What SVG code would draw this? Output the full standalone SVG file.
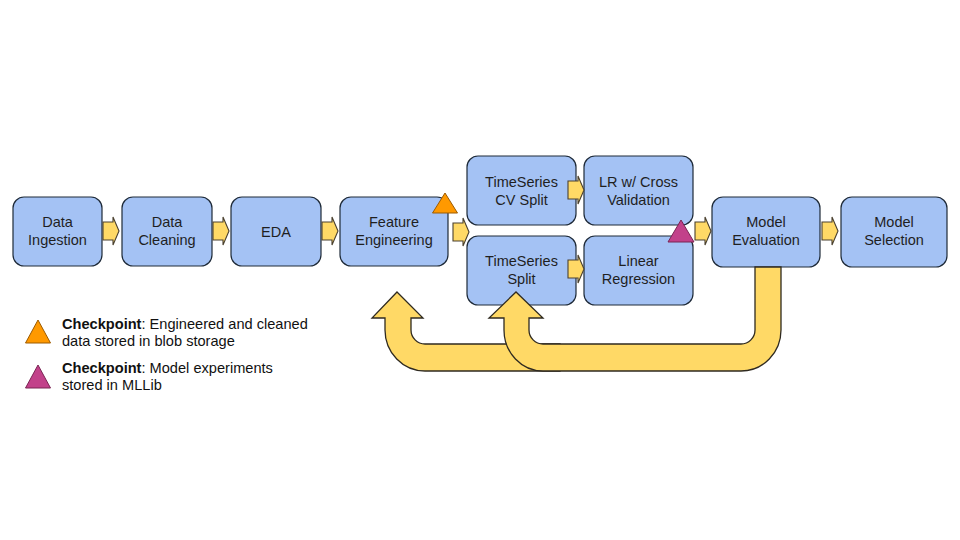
<svg xmlns="http://www.w3.org/2000/svg" xmlns:xlink="http://www.w3.org/1999/xlink" width="960" height="540" viewBox="0 0 960 540">
<style>
.box{fill:#a4c2f4;stroke:#1e2a38;stroke-width:1.2}
.t{font-family:"Liberation Sans",Arial,sans-serif;font-size:14.5px;fill:#1f1f1f;text-anchor:middle}
.arr{fill:#ffd966;stroke:#4a4030;stroke-width:1.1;stroke-linejoin:miter}
.big{fill:#ffd966;stroke:#2f2a20;stroke-width:1.3}
.lg{font-family:"Liberation Sans",Arial,sans-serif;font-size:14.6px;fill:#111}
.orange{fill:#ff9900;stroke:#9c5a00;stroke-width:1}
.mag{fill:#c2418a;stroke:#7a2453;stroke-width:1}
</style>
<defs>
<path id="sa" d="M0,-9 H10 V-14 L16,0 L10,14 V9 H0 Z"/>
</defs>
<rect width="960" height="540" fill="#ffffff"/>

<g id="n-ingestion"><rect class="box" x="13" y="197" width="89" height="69" rx="11"/><text class="t" x="57.5" y="226.5">Data</text><text class="t" x="57.5" y="244.5">Ingestion</text></g>
<g id="n-cleaning"><rect class="box" x="122" y="197" width="90" height="69" rx="11"/><text class="t" x="167" y="226.5">Data</text><text class="t" x="167" y="244.5">Cleaning</text></g>
<g id="n-eda"><rect class="box" x="231" y="197" width="90" height="69" rx="11"/><text class="t" x="276" y="236.5">EDA</text></g>
<g id="n-feature"><rect class="box" x="340" y="197" width="108" height="69" rx="11"/><text class="t" x="394" y="226.5">Feature</text><text class="t" x="394" y="244.5">Engineering</text></g>
<g id="n-tscv"><rect class="box" x="467" y="156" width="109" height="69" rx="11"/><text class="t" x="521.5" y="186.5">TimeSeries</text><text class="t" x="521.5" y="204.5">CV Split</text></g>
<g id="n-ts"><rect class="box" x="467" y="236" width="109" height="69" rx="11"/><text class="t" x="521.5" y="266">TimeSeries</text><text class="t" x="521.5" y="284">Split</text></g>
<g id="n-lrcv"><rect class="box" x="584" y="156" width="109" height="69" rx="11"/><text class="t" x="638.5" y="186.5">LR w/ Cross</text><text class="t" x="638.5" y="204.5">Validation</text></g>
<g id="n-lr"><rect class="box" x="584" y="236" width="109" height="69" rx="11"/><text class="t" x="638.5" y="266">Linear</text><text class="t" x="638.5" y="284">Regression</text></g>
<g id="n-eval"><rect class="box" x="712" y="197" width="108" height="70" rx="11"/><text class="t" x="766" y="227">Model</text><text class="t" x="766" y="245">Evaluation</text></g>
<g id="n-select"><rect class="box" x="841" y="197" width="106" height="70" rx="11"/><text class="t" x="894" y="227">Model</text><text class="t" x="894" y="245">Selection</text></g>

<g id="connectors">
<use xlink:href="#sa" class="arr" x="103" y="231"/>
<use xlink:href="#sa" class="arr" x="213" y="231"/>
<use xlink:href="#sa" class="arr" x="322" y="231"/>
<use xlink:href="#sa" class="arr" x="453" y="232"/>
<use xlink:href="#sa" class="arr" x="568" y="190"/>
<use xlink:href="#sa" class="arr" x="568" y="269"/>
<use xlink:href="#sa" class="arr" x="695" y="231"/>
<use xlink:href="#sa" class="arr" x="822" y="231"/>
<path id="uturn-feature" class="big" d="M397,292 L423,318 H411 V330 A14,14 0 0 0 425,344 H560 V371 H425 A40,41 0 0 1 385,330 V318 H372 Z"/>
<path id="uturn-split" class="big" d="M755,267 V330 A14,14 0 0 1 741,344 H543 A14,14 0 0 1 529,330 V318 H543 L516,292 L489,318 H504 V330 A39,41 0 0 0 543,371 H741 A40,41 0 0 0 781,330 V267 Z"/>
</g>

<g id="checkpoints">
<polygon class="orange" points="445,193 457.5,213 432.5,213"/>
<polygon class="mag" points="681,220 694,242 668,242"/>
</g>

<g id="legend">
<polygon class="orange" points="38,320 50.5,343 25.5,343"/>
<text class="lg" x="62" y="329"><tspan font-weight="bold">Checkpoint</tspan>: Engineered and cleaned</text>
<text class="lg" x="62" y="346">data stored in blob storage</text>
<polygon class="mag" points="38,365 50.5,388 25.5,388"/>
<text class="lg" x="62" y="373"><tspan font-weight="bold">Checkpoint</tspan>: Model experiments</text>
<text class="lg" x="62" y="390">stored in MLLib</text>
</g>
</svg>
